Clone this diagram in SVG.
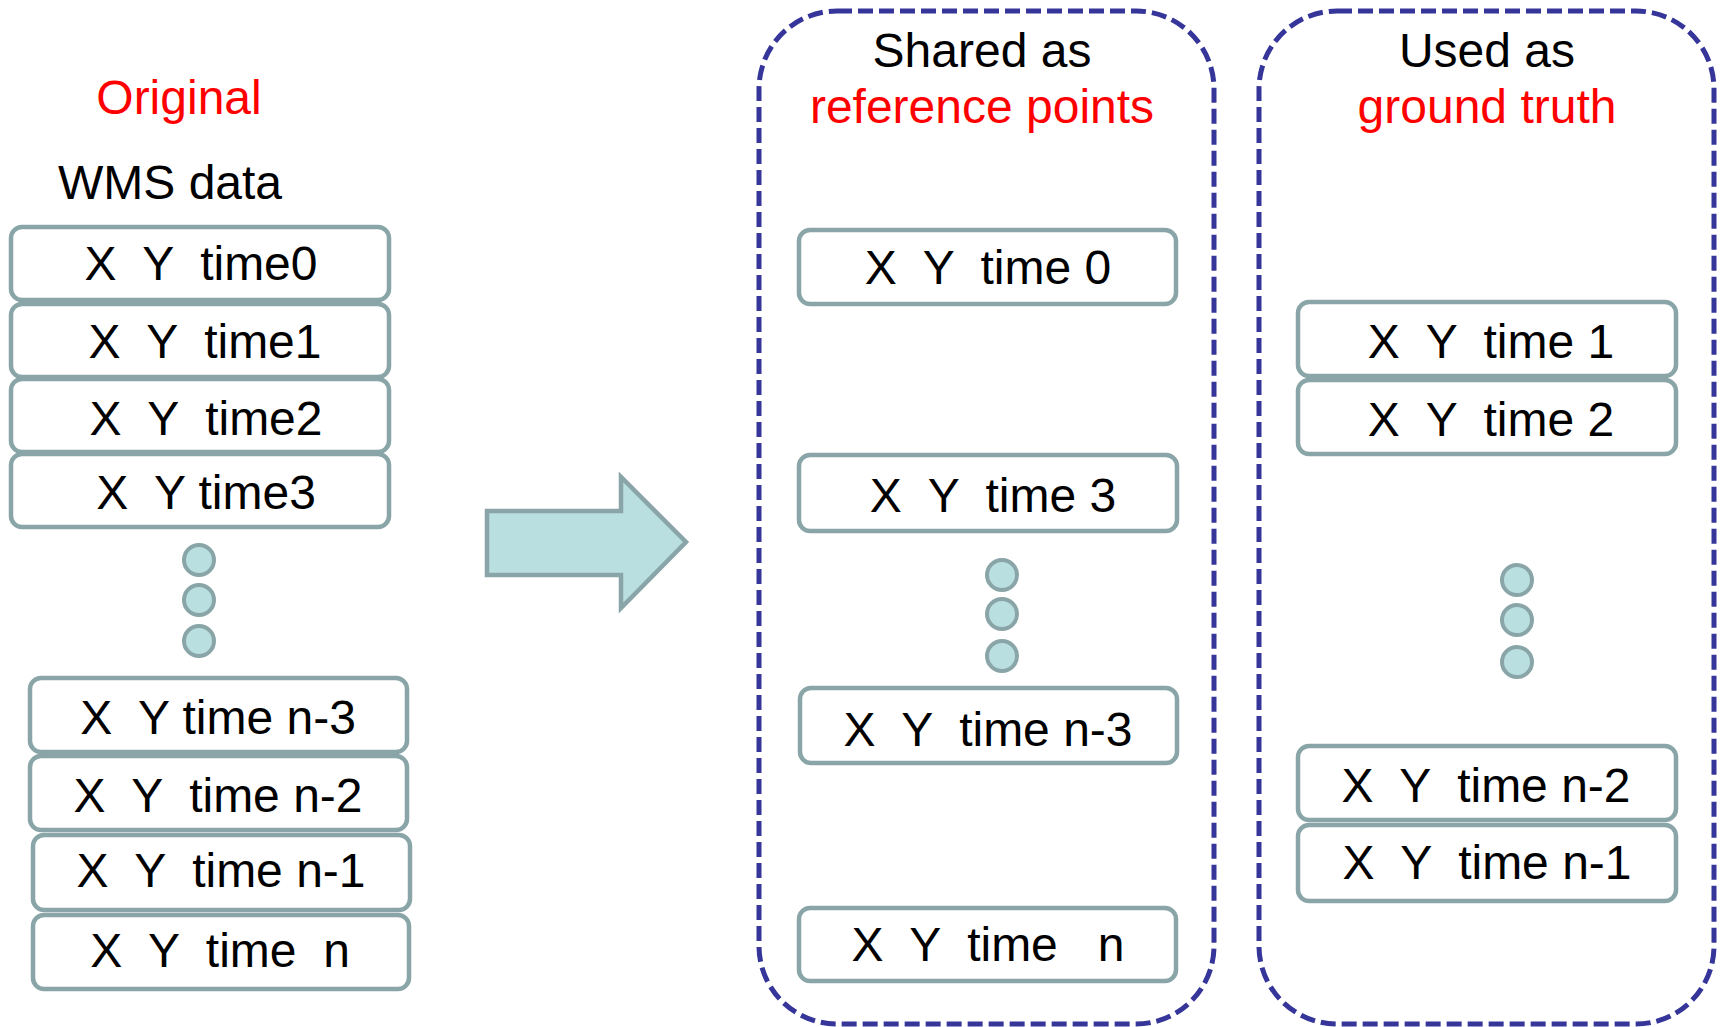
<svg xmlns="http://www.w3.org/2000/svg" width="1723" height="1027" viewBox="0 0 1723 1027">
<style>
.box{fill:#ffffff;stroke:#8aa5a7;stroke-width:4.5}
.dot{fill:#b9dfe0;stroke:#8aa5a7;stroke-width:4}
.grp{fill:none;stroke:#35359a;stroke-width:5;stroke-dasharray:15 6}
text{font-family:"Liberation Sans",Arial,sans-serif;font-size:48px;fill:#000000}
.t{text-anchor:middle}
.red{fill:#ff0000}
</style>
<rect width="1723" height="1027" fill="#ffffff"/>
<g id="labels">
<text x="179" y="114" class="t red">Original</text>
<text x="58" y="199">WMS data</text>
</g>
<g id="group-shared">
<rect class="grp" x="759" y="11" width="455" height="1013" rx="78" ry="78"/>
<text x="982" y="67" class="t">Shared as</text>
<text x="982" y="123" class="t red">reference points</text>
</g>
<g id="group-used">
<rect class="grp" x="1259" y="11" width="455" height="1013" rx="78" ry="78"/>
<text x="1487" y="67" class="t">Used as</text>
<text x="1487" y="123" class="t red">ground truth</text>
</g>
<g id="connectors">
<path d="M487,511 L621,511 L621,477 L686,542 L621,608 L621,575 L487,575 Z" fill="#b9dfe0" stroke="#8aa5a7" stroke-width="4.5"/>
</g>
<g id="orig-time0"><rect class="box" x="11" y="227" width="378" height="73" rx="11"/><text x="201" y="280" class="t" xml:space="preserve">X  Y  time0</text></g>
<g id="orig-time1"><rect class="box" x="11" y="304" width="378" height="73" rx="11"/><text x="205" y="358" class="t" xml:space="preserve">X  Y  time1</text></g>
<g id="orig-time2"><rect class="box" x="11" y="379" width="378" height="73" rx="11"/><text x="206" y="435" class="t" xml:space="preserve">X  Y  time2</text></g>
<g id="orig-time3"><rect class="box" x="11" y="454" width="378" height="73" rx="11"/><text x="206" y="509" class="t" xml:space="preserve">X  Y time3</text></g>
<g id="orig-dots">
<circle class="dot" cx="199" cy="560" r="15"/>
<circle class="dot" cx="199" cy="600" r="15"/>
<circle class="dot" cx="199" cy="641" r="15"/>
</g>
<g id="orig-n3"><rect class="box" x="30" y="678" width="377" height="74" rx="11"/><text x="218" y="734" class="t" xml:space="preserve">X  Y time n-3</text></g>
<g id="orig-n2"><rect class="box" x="30" y="756" width="377" height="74" rx="11"/><text x="218" y="812" class="t" xml:space="preserve">X  Y  time n-2</text></g>
<g id="orig-n1"><rect class="box" x="33" y="835" width="377" height="75" rx="11"/><text x="221" y="887" class="t" xml:space="preserve">X  Y  time n-1</text></g>
<g id="orig-n"><rect class="box" x="33" y="915" width="376" height="74" rx="11"/><text x="220" y="967" class="t" xml:space="preserve">X  Y  time  n</text></g>
<g id="ref-time0"><rect class="box" x="799" y="230" width="377" height="74" rx="11"/><text x="988" y="284" class="t" xml:space="preserve">X  Y  time 0</text></g>
<g id="ref-time3"><rect class="box" x="799" y="455" width="378" height="76" rx="11"/><text x="993" y="512" class="t" xml:space="preserve">X  Y  time 3</text></g>
<g id="ref-dots">
<circle class="dot" cx="1002" cy="575" r="15"/>
<circle class="dot" cx="1002" cy="614" r="15"/>
<circle class="dot" cx="1002" cy="656" r="15"/>
</g>
<g id="ref-n3"><rect class="box" x="800" y="688" width="377" height="75" rx="11"/><text x="988" y="746" class="t" xml:space="preserve">X  Y  time n-3</text></g>
<g id="ref-n"><rect class="box" x="799" y="908" width="377" height="73" rx="11"/><text x="988" y="961" class="t" xml:space="preserve">X  Y  time   n</text></g>
<g id="gt-time1"><rect class="box" x="1298" y="302" width="378" height="74" rx="11"/><text x="1491" y="358" class="t" xml:space="preserve">X  Y  time 1</text></g>
<g id="gt-time2"><rect class="box" x="1298" y="380" width="378" height="74" rx="11"/><text x="1491" y="436" class="t" xml:space="preserve">X  Y  time 2</text></g>
<g id="gt-dots">
<circle class="dot" cx="1517" cy="580" r="15"/>
<circle class="dot" cx="1517" cy="620" r="15"/>
<circle class="dot" cx="1517" cy="662" r="15"/>
</g>
<g id="gt-n2"><rect class="box" x="1298" y="746" width="378" height="74" rx="11"/><text x="1486" y="802" class="t" xml:space="preserve">X  Y  time n-2</text></g>
<g id="gt-n1"><rect class="box" x="1298" y="825" width="378" height="76" rx="11"/><text x="1487" y="879" class="t" xml:space="preserve">X  Y  time n-1</text></g>
</svg>
